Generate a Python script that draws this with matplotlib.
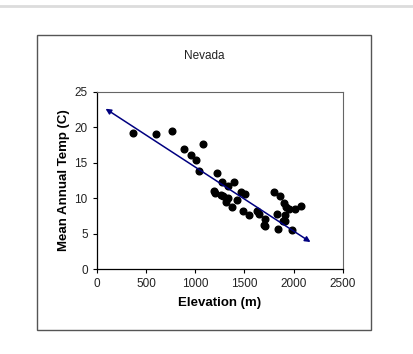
import numpy as np
import matplotlib.pyplot as plt
from matplotlib.patches import Rectangle
from matplotlib.lines import Line2D

plt.rcParams['font.family'] = ['Liberation Sans', 'DejaVu Sans']

# station elevation (m) and mean annual temperature (C)
elev = [366, 603, 762, 887, 955, 1009, 1043, 1077, 1219, 1267, 1331, 1389,
        1192, 1203, 1260, 1287, 1328, 1311, 1378, 1422, 1460, 1510, 1483,
        1548, 1632, 1646, 1710, 1700, 1713, 1802, 1863, 1829, 1839, 1897,
        1924, 1947, 1914, 1890, 1914, 2015, 2076, 1981]
temp = [19.2, 19.0, 19.5, 16.9, 16.1, 15.3, 13.8, 17.6, 13.6, 12.2, 11.7, 12.2,
        11.0, 10.7, 10.4, 10.3, 10.0, 9.4, 8.7, 9.7, 10.8, 10.6, 8.2,
        7.6, 8.2, 7.8, 7.1, 6.2, 6.0, 10.8, 10.3, 7.7, 5.7, 9.3,
        8.8, 8.5, 7.6, 6.8, 6.8, 8.5, 8.9, 5.5]

# trend line end points
trend_x = [90, 2170]
trend_y = [22.6, 3.8]

xticks = [0, 500, 1000, 1500, 2000, 2500]
yticks = [0, 5, 10, 15, 20, 25]

W, H = 414, 354
fig = plt.figure(figsize=(W / 100, H / 100), dpi=100)

# light separator at the top and the chart frame
fig.add_artist(Line2D([0, 1], [1 - 6 / H, 1 - 6 / H], color='#dcdcdc', lw=2,
                      transform=fig.transFigure))
fig.add_artist(Rectangle((37 / W, 1 - 330 / H), (371 - 37) / W, (330 - 35) / H,
                         transform=fig.transFigure, fill=False,
                         edgecolor='#555555', lw=1))

ax = fig.add_axes([96.7 / W, 1 - 269 / H, (343 - 96.7) / W, (269 - 91.7) / H])

ax.plot(elev, temp, 'o', color='black', markersize=4.8, zorder=3)
ax.annotate('', xy=(trend_x[1], trend_y[1]), xytext=(trend_x[0], trend_y[0]),
            arrowprops=dict(arrowstyle='<|-|>', color='#000080', lw=1.1,
                            mutation_scale=8, shrinkA=0, shrinkB=0),
            zorder=4)

ax.set_xlim(0, 2500)
ax.set_ylim(0, 25)
ax.set_xticks(xticks)
ax.set_yticks(yticks)
ax.tick_params(labelsize=8.5, length=3, width=0.8, colors='black',
               labelcolor='#222222', direction='out')
for s in ['left', 'bottom']:
    ax.spines[s].set_color('black')
    ax.spines[s].set_linewidth(0.9)
for s in ['top', 'right']:
    ax.spines[s].set_color('#666666')
    ax.spines[s].set_linewidth(0.8)

ax.set_xlabel('Elevation (m)', fontsize=9.5, fontweight='bold', labelpad=5)
ax.set_ylabel('Mean Annual Temp (C)', fontsize=9.5, fontweight='bold', labelpad=3)

fig.text(204 / W, 1 - 56 / H, 'Nevada', ha='center', va='center', fontsize=8.5,
         color='#222222')

fig.savefig('out.png', dpi=100)
